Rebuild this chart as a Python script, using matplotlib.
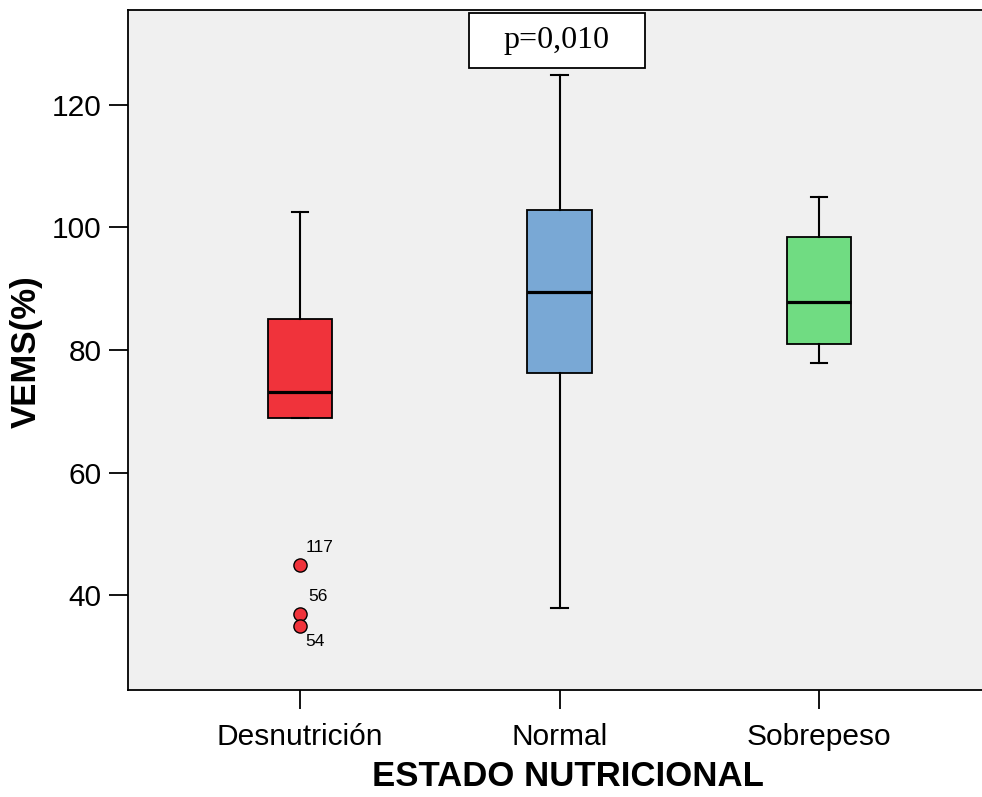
import matplotlib
matplotlib.use("Agg")
import matplotlib.pyplot as plt
from matplotlib.patches import Rectangle

plt.rcParams['font.family'] = ['Liberation Sans', 'DejaVu Sans']

# resumen de cinco números por grupo
categorias = ["Desnutrición", "Normal", "Sobrepeso"]
bigote_inf = [69.0, 38.0, 77.9]
q1 = [69.0, 76.3, 81.0]
mediana = [73.2, 89.5, 87.9]
q3 = [85.0, 102.8, 98.4]
bigote_sup = [102.5, 124.8, 104.9]

# valores atípicos (solo en Desnutrición) y número de caso
atipicos_valor = [44.9, 37.0, 35.1]
atipicos_caso = ["117", "56", "54"]
atipicos_offset = [(4, 13), (6, 12.5), (4, -11.5)]

colores = ["#f0333b", "#79a8d5", "#70dc82"]
p_valor = "p=0,010"

fig = plt.figure(figsize=(9.82, 7.97), dpi=100)
ax = fig.add_axes([128 / 982, 107 / 797, 1 - 128 / 982, 680 / 797])
ax.set_facecolor("#f0f0f0")

posiciones = list(range(1, len(categorias) + 1))
stats = []
for i, cat in enumerate(categorias):
    fliers = atipicos_valor if i == 0 else []
    stats.append(dict(label=cat, whislo=bigote_inf[i], q1=q1[i], med=mediana[i],
                      q3=q3[i], whishi=bigote_sup[i], fliers=fliers))

bp = ax.bxp(stats, positions=posiciones, widths=0.25, capwidths=0.065,
            patch_artist=True, showfliers=True,
            boxprops=dict(edgecolor="black", linewidth=1.3),
            medianprops=dict(color="black", linewidth=2.3),
            whiskerprops=dict(color="black", linewidth=1.5),
            capprops=dict(color="black", linewidth=1.5),
            flierprops=dict(marker="o", markerfacecolor=colores[0],
                            markeredgecolor="black", markersize=9.5,
                            markeredgewidth=1.0, linestyle="none"))
for caja, c in zip(bp["boxes"], colores):
    caja.set_facecolor(c)

# etiquetas de caso junto a los atípicos
for v, caso, off in zip(atipicos_valor, atipicos_caso, atipicos_offset):
    ax.annotate(caso, (posiciones[0], v), xytext=off, textcoords="offset points",
                ha="left", va="center", fontsize=12.5)

ax.set_xlim(0.337, 3.628)
ax.set_ylim(24.6, 135.4)
ax.set_yticks([40, 60, 80, 100, 120])
ax.set_xticks(posiciones)
ax.set_xticklabels(categorias)
ax.tick_params(axis="both", direction="out", length=14, width=1.3,
               labelsize=21.5, color="black")
ax.tick_params(axis="x", pad=10)
ax.tick_params(axis="y", pad=5)

for lado in ["left", "bottom", "top"]:
    ax.spines[lado].set_linewidth(1.3)
    ax.spines[lado].set_color("black")
ax.spines["right"].set_visible(False)

ax.set_ylabel("VEMS(%)", fontsize=25, fontweight="bold")
ax.set_xlabel("ESTADO NUTRICIONAL", fontsize=25, fontweight="bold")
ax.yaxis.set_label_coords(-0.0995, 0.497)
ax.xaxis.set_label_coords(0.515, -0.103)

# recuadro con el valor p
ax.add_patch(Rectangle((0.399, 0.915), 0.206, 0.081, transform=ax.transAxes,
                       facecolor="white", edgecolor="black", linewidth=1.3,
                       zorder=5, clip_on=False))
ax.text(0.502, 0.9555, p_valor, transform=ax.transAxes, ha="center", va="center",
        fontsize=23, family=["Liberation Serif", "DejaVu Serif"], zorder=6)

fig.savefig("out.png", dpi=100)
